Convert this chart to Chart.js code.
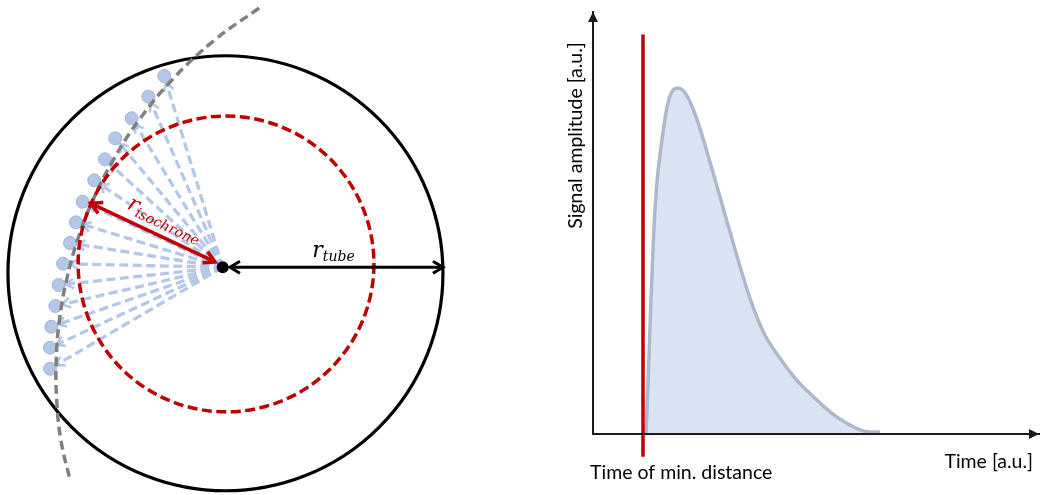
<!DOCTYPE html>
<html>
<head>
<meta charset="utf-8">
<title>Drift tube isochrone and signal pulse</title>
<script src="https://cdn.jsdelivr.net/npm/chart.js@4.4.1/dist/chart.umd.min.js"></script>
<style>
  html, body { margin: 0; padding: 0; background: #ffffff; }
  #wrap { position: relative; width: 1040px; height: 495px; overflow: hidden; }
  #tube { position: absolute; left: 0; top: 0; }
  #signal { position: absolute; left: 540px; top: 0; }
</style>
</head>
<body>
<div id="wrap">
  <canvas id="tube" width="460" height="495"></canvas>
  <canvas id="signal" width="500" height="495"></canvas>
</div>
<script>
// ---------- Tube cross-section, millimetres, wire at the origin ----------
const wire = [0, 0];
const tubeCentre = [0.19, -0.41];
const tubeRadius = 15.0;
const isochroneCentre = [0.23, 0.23];
const isochroneRadius = 10.2;

// sensor hits along the track
const sensorX = [-4.03, -5.13, -6.28, -7.41, -8.12, -8.86, -9.66, -10.12, -10.53, -11.01, -11.31, -11.54, -11.82, -11.91, -11.91];
const sensorY = [13.19, 11.77, 10.28, 8.90, 7.45, 6.00, 4.52, 3.10, 1.68, 0.25, -1.22, -2.67, -4.10, -5.54, -6.99];

// curved particle track
const trackX = [2.52, -0.55, -3.50, -5.77, -7.55, -8.95, -10.01, -10.77, -11.26, -11.48, -11.45, -11.16, -10.53];
const trackY = [17.88, 15.68, 12.92, 10.16, 7.40, 4.64, 1.88, -0.88, -3.63, -6.39, -9.15, -11.92, -14.67];

// radius arrows
const isoArrowX = [-9.10, -0.53];
const isoArrowY = [4.41, 0.37];
const tubeArrowX = [0.50, 15.19];
const tubeArrowY = [0, 0];

// ---------- Signal pulse, arbitrary units ----------
const pulseTime = [5.3, 5.53, 5.77, 6.03, 6.37, 6.87, 7.37, 7.87, 8.53, 9.37, 10.37, 11.7, 13.03, 14.37, 15.7, 17.03, 18.7, 20.37, 22.03, 23.7, 25.37, 27.03, 28.7];
const pulseAmp  = [0.0, 0.17, 0.364, 0.555, 0.719, 0.844, 0.94, 0.988, 1.0, 0.979, 0.912, 0.786, 0.652, 0.517, 0.392, 0.295, 0.219, 0.156, 0.108, 0.064, 0.031, 0.009, 0.005];
const minDistanceTime = 5.0;
const minDistanceSpan = [-0.066, 1.155];
const timeRange = [0, 44.6];
const ampRange = [0, 1.22];

const yTitle = 'Signal amplitude [a.u.]';
const xTitle = 'Time [a.u.]';
const markerLabel = 'Time of min. distance';

const RED = '#c00000';
const BLUE_LINE = '#b4c7e7';
const SANS = 'Lato, "Open Sans", sans-serif';
const MATH = '"DejaVu Serif", "Liberation Serif", serif';

const toXY = (xs, ys) => xs.map((x, i) => ({ x, y: ys[i] }));

// radius in pixels for a length given in x-axis units
const scaledRadius = (r) => (ctx) => {
  const s = ctx.chart.scales.x;
  return Math.abs(s.getPixelForValue(r) - s.getPixelForValue(0));
};

// dashed outlines for circle-shaped points
const dashPlugin = {
  id: 'circleDash',
  beforeDatasetDraw(chart, args) {
    const ds = chart.data.datasets[args.index];
    if (ds.circleDash) { chart.ctx.save(); chart.ctx.setLineDash(ds.circleDash); }
  },
  afterDatasetDraw(chart, args) {
    const ds = chart.data.datasets[args.index];
    if (ds.circleDash) chart.ctx.restore();
  }
};

// open arrow heads at the ends of a line dataset
const arrowPlugin = {
  id: 'arrowHeads',
  afterDatasetDraw(chart, args) {
    const ds = chart.data.datasets[args.index];
    const a = ds.arrowHeads;
    if (!a) return;
    const pts = args.meta.data;
    const ctx = chart.ctx;
    const head = (tip, from) => {
      const dx = tip.x - from.x, dy = tip.y - from.y;
      const len = Math.hypot(dx, dy);
      const ux = dx / len, uy = dy / len;
      const tx = tip.x - ux * (a.inset || 0), ty = tip.y - uy * (a.inset || 0);
      const bx = tx - ux * a.length, by = ty - uy * a.length;
      const px = -uy * a.width, py = ux * a.width;
      ctx.beginPath();
      ctx.moveTo(bx + px, by + py);
      ctx.lineTo(tx, ty);
      ctx.lineTo(bx - px, by - py);
      ctx.stroke();
    };
    ctx.save();
    ctx.setLineDash([]);
    ctx.strokeStyle = ds.borderColor;
    ctx.lineWidth = a.lineWidth || ds.borderWidth;
    ctx.lineJoin = 'miter';
    ctx.lineCap = 'butt';
    if (a.end) head(pts[pts.length - 1], pts[0]);
    if (a.start) head(pts[0], pts[pts.length - 1]);
    ctx.restore();
  }
};

// symbol with subscript, e.g. r_tube
function drawSubscripted(ctx, main, sub, colour) {
  ctx.fillStyle = colour;
  ctx.textBaseline = 'alphabetic';
  ctx.textAlign = 'left';
  ctx.font = 'italic 22px ' + MATH;
  ctx.fillText(main, 0, 0);
  const w = ctx.measureText(main).width;
  ctx.font = 'italic 14px ' + MATH;
  ctx.fillText(sub, w, 4);
}

const radiusLabels = {
  id: 'radiusLabels',
  afterDatasetsDraw(chart) {
    const ctx = chart.ctx;
    const sx = chart.scales.x, sy = chart.scales.y;

    // r_isochrone, laid along the red arrow
    const iso = chart.getDatasetMeta(chart.data.datasets.findIndex(d => d.label === 'isochrone radius')).data;
    const A = iso[0], B = iso[iso.length - 1];
    const ang = Math.atan2(B.y - A.y, B.x - A.x);
    const ux = Math.cos(ang), uy = Math.sin(ang);
    ctx.save();
    ctx.translate(A.x + ux * 34 + uy * 11, A.y + uy * 34 - ux * 11);
    ctx.rotate(ang);
    drawSubscripted(ctx, 'r', 'isochrone', RED);
    ctx.restore();

    // r_tube, above the black arrow
    ctx.save();
    ctx.translate(sx.getPixelForValue(6.18), sy.getPixelForValue(0) - 10.5);
    drawSubscripted(ctx, 'r', 'tube', '#000000');
    ctx.restore();
  }
};

// ---------- left panel ----------
const pxPerMm = 14.5;
const wirePx = [222.7, 267.3];

const sensorLines = sensorX.map((x, i) => ({
  label: 'path ' + (i + 1),
  data: [{ x: wire[0], y: wire[1] }, { x, y: sensorY[i] }],
  showLine: true,
  borderColor: BLUE_LINE,
  borderWidth: 3.3,
  borderDash: [9, 4.5],
  pointRadius: 0,
  clip: false,
  order: 6,
  arrowHeads: { end: true, length: 8, width: 5, lineWidth: 2.6, inset: 7 }
}));

new Chart(document.getElementById('tube'), {
  type: 'scatter',
  data: {
    datasets: [
      {
        label: 'wire',
        data: toXY([wire[0]], [wire[1]]),
        pointRadius: 6,
        pointBackgroundColor: '#000000',
        pointBorderWidth: 0,
        clip: false,
        order: 0
      },
      {
        label: 'tube radius',
        data: toXY(tubeArrowX, tubeArrowY),
        showLine: true,
        borderColor: '#000000',
        borderWidth: 3,
        pointRadius: 0,
        clip: false,
        order: 1,
        arrowHeads: { start: true, end: true, length: 10, width: 6, lineWidth: 3 }
      },
      {
        label: 'isochrone radius',
        data: toXY(isoArrowX, isoArrowY),
        showLine: true,
        borderColor: RED,
        borderWidth: 3.5,
        pointRadius: 0,
        clip: false,
        order: 2,
        arrowHeads: { start: true, end: true, length: 11, width: 6, lineWidth: 3.5 }
      },
      {
        label: 'isochrone',
        data: toXY([isochroneCentre[0]], [isochroneCentre[1]]),
        pointRadius: scaledRadius(isochroneRadius),
        pointBackgroundColor: 'rgba(0,0,0,0)',
        pointBorderColor: RED,
        pointBorderWidth: 3.5,
        circleDash: [10, 4.5],
        clip: false,
        order: 3
      },
      {
        label: 'track',
        data: toXY(trackX, trackY),
        showLine: true,
        tension: 0.4,
        borderColor: '#808080',
        borderWidth: 3.5,
        borderDash: [9, 5],
        pointRadius: 0,
        clip: false,
        order: 4
      },
      {
        label: 'sensors',
        data: toXY(sensorX, sensorY),
        pointRadius: 6.5,
        pointBackgroundColor: '#b4c7e7',
        pointBorderColor: '#a2b4d4',
        pointBorderWidth: 1,
        clip: false,
        order: 5
      },
      ...sensorLines,
      {
        label: 'tube wall',
        data: toXY([tubeCentre[0]], [tubeCentre[1]]),
        pointRadius: scaledRadius(tubeRadius),
        pointBackgroundColor: 'rgba(0,0,0,0)',
        pointBorderColor: '#000000',
        pointBorderWidth: 3.2,
        clip: false,
        order: 7
      }
    ]
  },
  options: {
    responsive: false,
    animation: false,
    devicePixelRatio: 1,
    events: [],
    layout: { padding: 0, autoPadding: false },
    plugins: { legend: { display: false }, tooltip: { enabled: false } },
    scales: {
      x: { type: 'linear', display: false, min: -wirePx[0] / pxPerMm, max: (460 - wirePx[0]) / pxPerMm },
      y: { type: 'linear', display: false, min: (wirePx[1] - 495) / pxPerMm, max: wirePx[1] / pxPerMm }
    }
  },
  plugins: [dashPlugin, arrowPlugin, radiusLabels]
});

// ---------- right panel ----------
const axisArrows = {
  id: 'axisArrows',
  afterDraw(chart) {
    const { ctx, chartArea: a } = chart;
    ctx.save();
    ctx.fillStyle = '#1a1a1a';
    ctx.beginPath();
    ctx.moveTo(a.left, a.top);
    ctx.lineTo(a.left - 5, a.top + 10);
    ctx.lineTo(a.left + 5, a.top + 10);
    ctx.closePath();
    ctx.fill();
    ctx.beginPath();
    ctx.moveTo(a.right, a.bottom);
    ctx.lineTo(a.right - 10, a.bottom - 5);
    ctx.lineTo(a.right - 10, a.bottom + 5);
    ctx.closePath();
    ctx.fill();
    ctx.restore();
  }
};

const axisTexts = {
  id: 'axisTexts',
  afterDraw(chart) {
    const ctx = chart.ctx;
    const sx = chart.scales.x, sy = chart.scales.y;
    const x0 = sx.getPixelForValue(timeRange[0]);
    const y0 = sy.getPixelForValue(0);
    ctx.save();
    ctx.fillStyle = '#000000';
    ctx.font = '19.5px ' + SANS;
    ctx.textBaseline = 'alphabetic';

    ctx.save();
    ctx.translate(x0 - 11, sy.getPixelForValue(0.863));
    ctx.rotate(-Math.PI / 2);
    ctx.textAlign = 'center';
    ctx.fillText(yTitle, 0, 0);
    ctx.restore();

    ctx.textAlign = 'right';
    ctx.fillText(xTitle, sx.getPixelForValue(timeRange[1]) - 6, y0 + 34);

    ctx.textAlign = 'left';
    ctx.fillText(markerLabel, x0 - 3, y0 + 45);
    ctx.restore();
  }
};

const hiddenAxis = (range) => ({
  type: 'linear',
  min: range[0],
  max: range[1],
  grid: { display: false, drawTicks: false, tickLength: 0 },
  ticks: { display: false },
  border: { display: true, color: '#1a1a1a', width: 2, z: 1 }
});

new Chart(document.getElementById('signal'), {
  type: 'scatter',
  data: {
    datasets: [
      {
        label: markerLabel,
        data: toXY([minDistanceTime, minDistanceTime], minDistanceSpan),
        showLine: true,
        borderColor: RED,
        borderWidth: 3.5,
        pointRadius: 0,
        clip: false,
        order: 0
      },
      {
        label: 'signal',
        data: toXY(pulseTime, pulseAmp),
        showLine: true,
        cubicInterpolationMode: 'monotone',
        borderColor: '#adb9ca',
        borderWidth: 3.5,
        backgroundColor: '#dae3f3',
        fill: 'origin',
        pointRadius: 0,
        order: 1
      }
    ]
  },
  options: {
    responsive: false,
    animation: false,
    devicePixelRatio: 1,
    events: [],
    layout: { padding: { left: 53, right: 1, top: 12, bottom: 61 }, autoPadding: false },
    plugins: { legend: { display: false }, tooltip: { enabled: false } },
    scales: { x: hiddenAxis(timeRange), y: hiddenAxis(ampRange) }
  },
  plugins: [axisArrows, axisTexts]
});
</script>
</body>
</html>
